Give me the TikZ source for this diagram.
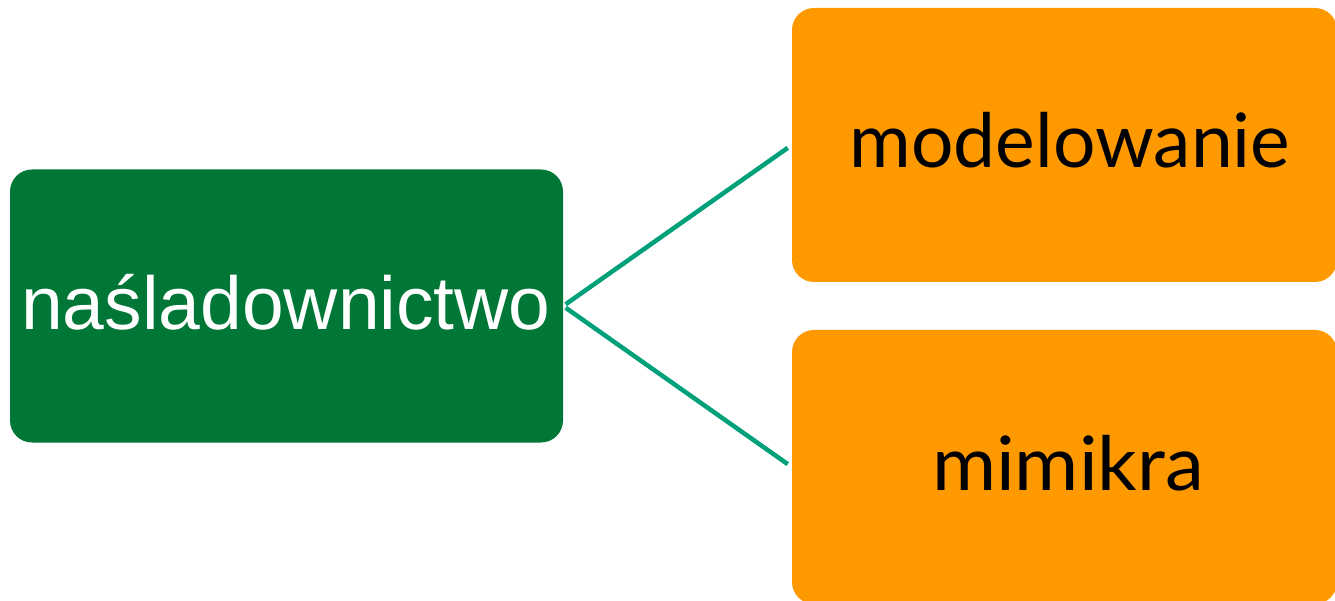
\documentclass[tikz,border=0pt]{standalone}
\usepackage{fontspec}
\setmainfont{Liberation Sans}
\newfontfamily\orfont{Lato}
\definecolor{dgreen}{RGB}{0,119,54}
\definecolor{orng}{RGB}{255,153,0}
\definecolor{teal}{RGB}{0,160,122}
\begin{document}
\begin{tikzpicture}[x=1pt,y=1pt,
  gbox/.style={fill=dgreen,rounded corners=22pt,minimum width=553pt,minimum height=273pt,inner sep=0pt},
  obox/.style={fill=orng,rounded corners=22pt,minimum width=545pt,minimum height=274pt,inner sep=0pt},
  gtext/.style={font=\fontsize{75}{80}\selectfont,text=white,anchor=base},
  otext/.style={font=\orfont\fontsize{75}{80}\selectfont,text=black,anchor=base},
  link/.style={draw=teal,line width=4.5pt,shorten <=3pt,shorten >=5pt}]
\useasboundingbox (0,0) rectangle (1335,600);
\node[gbox] (g) at (286.5,294) {};
\node[gtext] (gt) at (286,270) {naśladownictwo};
\node[obox] (o1) at (1064.5,455) {};
\node[obox] (o2) at (1064.5,133) {};
\node[otext] (t1) at (1070,432) {modelowanie};
\node[otext,xscale=1.04] (t2) at (1068,110) {mimikra};
\draw[link] (g.east) -- (o1.west);
\draw[link] (g.east) -- (o2.west);
\end{tikzpicture}
\end{document}
